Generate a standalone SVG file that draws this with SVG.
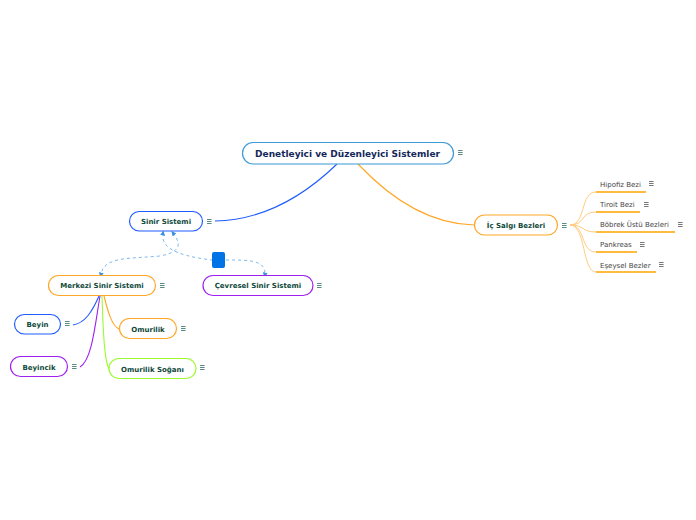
<svg xmlns="http://www.w3.org/2000/svg" width="696" height="520" viewBox="0 0 696 520">
<style>
text{font-family:"DejaVu Sans",Verdana,sans-serif;text-anchor:middle}
.n{fill:#fff;stroke-width:1.2}
.t{font-weight:bold;font-size:7px;fill:#0f4a3c}
.s{font-size:7px;fill:#444;text-anchor:start}
.c{fill:none;stroke-width:1.1}
.u{fill:none;stroke:#ffa500;stroke-width:1.4}
.b{fill:none;stroke:#ffcc80;stroke-width:1}
.r{fill:none;stroke:#7db8f0;stroke-width:1;stroke-dasharray:3 3}
.m{fill:none;stroke:#2f6f62;stroke-width:.8}
.g{stroke:#555}
</style>
<defs>
<path id="h" d="M0 0h4.600M0 2h4.600M0 4h4.600"/>
<marker id="a" markerWidth="5" markerHeight="5" refX="2.500" refY="2.500" orient="auto-start-reverse" markerUnits="userSpaceOnUse"><path d="M0 0L5 2.500L0 5z" fill="#3a8fe0"/></marker>
</defs>
<g id="connectors">
<path class="c" stroke="#1f5cff" d="M337 164C305 195 265 220 215 221"/>
<path class="c" stroke="#ffa726" d="M358 164C390 198 430 224 474 225"/>
<path class="b" d="M570 225C586 225 580 192 596 192"/>
<path class="b" d="M570 225C586 225 580 212 596 212"/>
<path class="b" d="M570 225C586 225 580 232 596 232"/>
<path class="b" d="M570 225C586 225 580 252 596 252"/>
<path class="b" d="M570 225C586 225 582 272 596 272"/>
<path class="c" stroke="#1f5cff" d="M99 296C92 312 85 323 73 325"/>
<path class="c" stroke="#a020f0" d="M100 296C95 325 92 360 80 367"/>
<path class="c" stroke="#ffa726" d="M104 296C108 312 112 326 119 329"/>
<path class="c" stroke="#9dfa2f" d="M102 296C103 325 104 360 109 369"/>
<path class="r" marker-start="url(#a)" marker-end="url(#a)" d="M173 233C181 243 182 252 160 256C130 259 103 256 101 275"/>
<path class="r" marker-start="url(#a)" d="M163 233C161 245 170 255 212 260"/>
<path class="r" marker-end="url(#a)" d="M226 260C250 260 266 260 265 275"/>
<path fill="#0073e6" d="M214 252h9a2 2 0 0 1 2 2v12a2 2 0 0 1-2 2h-9a2 2 0 0 1-2-2v-12a2 2 0 0 1 2-2z"/>
</g>
<g id="n-root"><rect class="n" x="242.500" y="142.500" width="211" height="21.500" rx="10.700" stroke="#3d9ad6"/><text x="347.500" y="157" font-size="9" font-weight="bold" fill="#14285a">Denetleyici ve Düzenleyici Sistemler</text><use href="#h" x="458" y="150.500" class="m" stroke="#4a5a8a"/></g>
<g id="n-sinir"><rect class="n" x="129.500" y="211.500" width="73" height="19.500" rx="9.700" stroke="#1f5cff"/><text class="t" x="166" y="224">Sinir Sistemi</text><use href="#h" x="207" y="219.500" class="m"/></g>
<g id="n-ic"><rect class="n" x="474.500" y="215" width="83" height="20" rx="10" stroke="#ffa726"/><text class="t" x="516" y="228">İç Salgı Bezleri</text><use href="#h" x="562" y="223.500" class="m"/></g>
<g id="n-merkezi"><rect class="n" x="48.500" y="275.500" width="107" height="20" rx="10" stroke="#ffa726"/><text class="t" x="102" y="288">Merkezi Sinir Sistemi</text><use href="#h" x="160" y="283.500" class="m"/></g>
<g id="n-cevresel"><rect class="n" x="203" y="275.500" width="110" height="20" rx="10" stroke="#a020f0"/><text class="t" x="258" y="288">Çevresel Sinir Sistemi</text><use href="#h" x="317" y="283.500" class="m"/></g>
<g id="n-beyin"><rect class="n" x="14.500" y="314.500" width="46" height="19.500" rx="9.700" stroke="#1f5cff"/><text class="t" x="37.500" y="327">Beyin</text><use href="#h" x="65" y="321.500" class="m"/></g>
<g id="n-omurilik"><rect class="n" x="119.500" y="318.500" width="57" height="20" rx="10" stroke="#ffa726"/><text class="t" x="148" y="331.500">Omurilik</text><use href="#h" x="181" y="326.500" class="m"/></g>
<g id="n-beyincik"><rect class="n" x="10.500" y="356.500" width="57" height="20" rx="10" stroke="#a020f0"/><text class="t" x="39" y="369.500">Beyincik</text><use href="#h" x="72" y="364.500" class="m"/></g>
<g id="n-sogan"><rect class="n" x="109" y="358.500" width="87" height="20" rx="10" stroke="#9dfa2f"/><text class="t" x="152.500" y="371.500">Omurilik Soğanı</text><use href="#h" x="200" y="365.500" class="m"/></g>
<g id="n-hipofiz"><path class="u" d="M596 192H646"/><text class="s" x="600" y="187">Hipofiz Bezi</text><use href="#h" x="649" y="181.500" class="m g"/></g>
<g id="n-tiroit"><path class="u" d="M596 212H640"/><text class="s" x="600" y="207">Tiroit Bezi</text><use href="#h" x="644" y="202.500" class="m g"/></g>
<g id="n-bobrek"><path class="u" d="M596 232H675"/><text class="s" x="600" y="227">Böbrek Üstü Bezleri</text><use href="#h" x="678" y="222.500" class="m g"/></g>
<g id="n-pankreas"><path class="u" d="M596 252H637"/><text class="s" x="600" y="247">Pankreas</text><use href="#h" x="640" y="242.500" class="m g"/></g>
<g id="n-esey"><path class="u" d="M596 272H656"/><text class="s" x="600" y="268">Eşeysel Bezler</text><use href="#h" x="659" y="262.500" class="m g"/></g>
</svg>
